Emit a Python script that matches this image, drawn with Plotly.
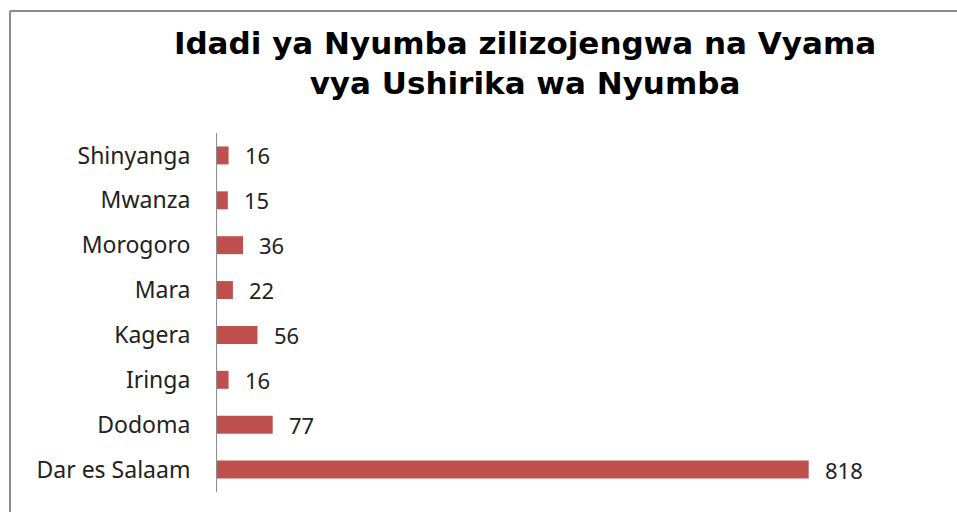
import plotly.graph_objects as go

categories = ["Dar es Salaam", "Dodoma", "Iringa", "Kagera", "Mara", "Morogoro", "Mwanza", "Shinyanga"]
values = [818, 77, 16, 56, 22, 36, 15, 16]
title_text = "Idadi ya Nyumba zilizojengwa na Vyama<br>vya Ushirika wa Nyumba"

W, H = 957, 512
ml, mr, mt, mb = 217, 89, 133, 20
pw = W - ml - mr
ph = H - mt - mb

def px_x(px):
    return (px - ml) / pw

def px_y(py):
    return (H - mb - py) / ph

fig = go.Figure()
fig.add_trace(go.Bar(
    y=categories, x=values, orientation="h",
    marker=dict(color="#C0504D", line=dict(width=0)),
    width=0.4,
    hoverinfo="skip",
))

for c, v in zip(categories, values):
    fig.add_annotation(x=v, y=c, text=str(v), showarrow=False, xanchor="left",
                       xshift=14, font=dict(family="Noto Sans", size=22, color="#222"))

fig.add_shape(type="line", xref="paper", yref="paper",
              x0=px_x(10), x1=px_x(10), y0=px_y(11), y1=px_y(520),
              line=dict(color="#8c8c8c", width=2))
fig.add_shape(type="line", xref="paper", yref="paper",
              x0=px_x(10), x1=px_x(965), y0=px_y(11), y1=px_y(11),
              line=dict(color="#8c8c8c", width=2))

fig.update_layout(
    width=W, height=H,
    margin=dict(l=ml, r=mr, t=mt, b=mb),
    paper_bgcolor="white", plot_bgcolor="white",
    showlegend=False,
    title=dict(text=title_text, x=525 / W, xanchor="center", y=1 - 54 / H, yanchor="top",
               font=dict(family="DejaVu Sans", size=31, color="black", weight="bold")),
    xaxis=dict(range=[0, 900], visible=False),
    yaxis=dict(showline=True, linecolor="#8c8c8c", linewidth=1, showgrid=False, zeroline=False,
               ticks="", ticklabelstandoff=21,
               tickfont=dict(family="Noto Sans", size=23, color="#222")),
)

fig.write_html("out.html", config={"displayModeBar": False},
               post_script="document.body.style.margin='0';")
